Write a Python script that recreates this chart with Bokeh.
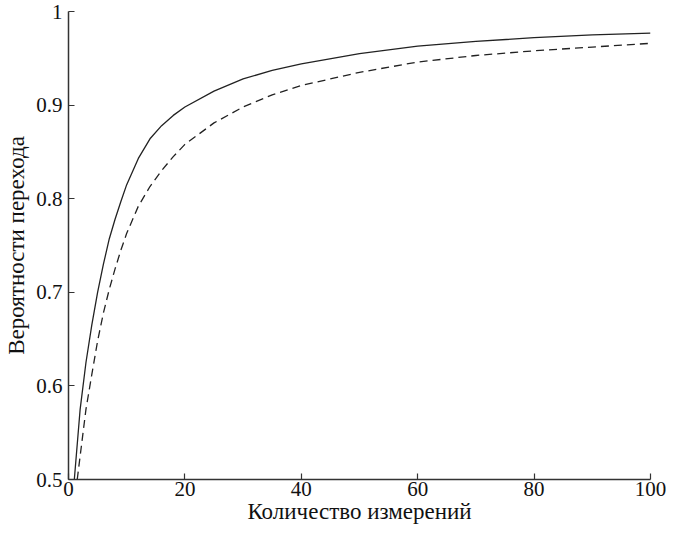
from bokeh.plotting import figure
from bokeh.models import Range1d, FixedTicker
from bokeh.embed import file_html
from bokeh.resources import INLINE

# Solid curve
solid_x = [1, 2, 3, 4, 5, 6, 7, 8, 9, 10, 12, 14, 16, 18, 20, 25, 30, 35, 40, 50, 60, 70, 80, 90, 100]
solid_y = [0.500, 0.575, 0.625, 0.665, 0.700, 0.730, 0.757, 0.778, 0.797, 0.815, 0.843, 0.864,
           0.878, 0.889, 0.898, 0.915, 0.928, 0.937, 0.944, 0.955, 0.963, 0.968, 0.972, 0.975, 0.977]

# Dashed curve
dash_x = [1.5, 2, 3, 4, 5, 6, 7, 8, 9, 10, 12, 14, 16, 18, 20, 25, 30, 35, 40, 50, 60, 70, 80, 90, 100]
dash_y = [0.500, 0.525, 0.575, 0.612, 0.648, 0.678, 0.703, 0.725, 0.745, 0.763, 0.792, 0.813,
          0.830, 0.845, 0.858, 0.881, 0.898, 0.911, 0.921, 0.935, 0.946, 0.953, 0.958, 0.962, 0.966]

x_ticks = [0, 20, 40, 60, 80, 100]
y_ticks = [0.5, 0.6, 0.7, 0.8, 0.9, 1.0]
y_tick_labels = {0.5: "0.5", 0.6: "0.6", 0.7: "0.7", 0.8: "0.8", 0.9: "0.9", 1.0: "1"}

FONT = "Liberation Serif"

p = figure(width=666, height=529, output_backend="svg", toolbar_location=None,
           x_range=Range1d(0, 100), y_range=Range1d(0.5, 1.0),
           min_border_left=68, min_border_right=16, min_border_top=11, min_border_bottom=50)

p.line(solid_x, solid_y, line_color="#222222", line_width=1.3)
p.line(dash_x, dash_y, line_color="#222222", line_width=1.3, line_dash="8 5")

p.outline_line_color = None
p.grid.visible = False

for ax in (p.xaxis[0], p.yaxis[0]):
    ax.axis_line_color = "#333333"
    ax.axis_line_width = 1.5
    ax.major_tick_in = 6
    ax.major_tick_out = 0
    ax.major_tick_line_color = "#333333"
    ax.major_tick_line_width = 1.2
    ax.minor_tick_line_color = None
    ax.major_label_text_font = FONT
    ax.major_label_text_font_size = "21px"
    ax.major_label_text_color = "#111111"
    ax.axis_label_text_font = FONT
    ax.axis_label_text_font_size = "23px"
    ax.axis_label_text_font_style = "normal"
    ax.axis_label_text_color = "#111111"

p.xaxis[0].ticker = FixedTicker(ticks=x_ticks)
p.yaxis[0].ticker = FixedTicker(ticks=y_ticks)
p.yaxis[0].major_label_overrides = y_tick_labels
p.xaxis[0].axis_label = "Количество измерений"
p.yaxis[0].axis_label = "Вероятности перехода"
p.xaxis[0].major_label_standoff = 2
p.xaxis[0].axis_label_standoff = 0
p.yaxis[0].major_label_standoff = 6
p.yaxis[0].axis_label_standoff = 4

open("out.html", "w").write(file_html(p, INLINE))
